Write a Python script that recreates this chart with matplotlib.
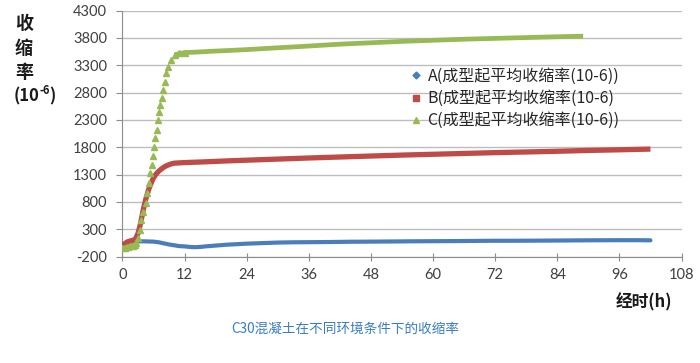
import numpy as np
import matplotlib
matplotlib.use("Agg")
import matplotlib.pyplot as plt
from matplotlib.lines import Line2D

plt.rcParams['font.family'] = ['Noto Sans CJK SC', 'DejaVu Sans']
plt.rcParams['axes.unicode_minus'] = False

# ---- data ----
t_a = [0, 0.5, 1, 1.5, 2, 3, 4, 5, 6, 7, 8, 9, 10, 11, 12, 13, 14, 15, 16, 18, 20, 22, 24,
       27, 30, 33, 36, 40, 44, 48, 52, 56, 60, 64, 68, 72, 76, 80, 84, 88, 92, 96, 100, 102]
v_a = [-40, -45, 0, 50, 70, 75, 78, 75, 72, 60, 40, 20, 5, -10, -15, -25, -30, -25, -15, 0, 15, 25, 35,
       45, 55, 60, 62, 65, 70, 72, 75, 78, 80, 82, 85, 88, 88, 90, 92, 95, 97, 98, 98, 96]

t_b = [0, 0.5, 1, 1.5, 2, 2.5, 3, 3.25, 3.5, 3.75, 4, 4.25, 4.5, 4.75, 5, 5.25, 5.5, 5.75, 6,
       6.5, 7, 7.5, 8, 8.5, 9, 9.5, 10, 11, 12, 14, 16, 18, 20, 24, 30, 36, 42, 48, 54, 60,
       66, 72, 78, 84, 90, 96, 102]
v_b = [0, 40, 70, 85, 95, 120, 224, 310, 410, 530, 650, 750, 850, 930, 1010, 1075, 1130, 1190, 1240,
       1310, 1360, 1400, 1435, 1460, 1480, 1497, 1507, 1513, 1518, 1525, 1532, 1540, 1548, 1562, 1582, 1602, 1620, 1638, 1655, 1670,
       1685, 1700, 1712, 1725, 1740, 1752, 1765]

t_c = [0, 0.5, 1, 1.5, 2, 2.4, 2.7, 3.0, 3.33, 3.66, 3.97, 4.49, 4.74, 5.07, 5.39, 5.70, 5.90,
       6.09, 6.36, 6.61, 6.86, 7.05, 7.32, 7.57, 7.82, 8.15, 8.48, 8.79, 9.31, 10.08, 11, 12,
       14, 16, 18, 20, 24, 30, 36, 42, 48, 54, 60, 66, 72, 78, 84, 89]
v_c = [-50, -40, -20, -10, 0, 15, 41, 133, 287, 468, 619, 784, 956, 1139, 1322, 1474, 1638,
       1808, 1962, 2114, 2297, 2448, 2571, 2694, 2845, 2997, 3151, 3272, 3394, 3486, 3515, 3530,
       3538, 3548, 3558, 3566, 3585, 3618, 3650, 3684, 3710, 3735, 3755, 3775, 3790, 3805, 3820, 3830]

labels = ['A(成型起平均收缩率(10-6))', 'B(成型起平均收缩率(10-6)', 'C(成型起平均收缩率(10-6))']
x_ticks = [0, 12, 24, 36, 48, 60, 72, 84, 96, 108]
y_ticks = [-200, 300, 800, 1300, 1800, 2300, 2800, 3300, 3800, 4300]

col_a, col_b, col_c = '#4a7ebb', '#be4b48', '#98b954'

fig = plt.figure(figsize=(7.0, 3.63), dpi=100)
ax = fig.add_axes([122.5/700, 1-256.5/363, 559/700, 246/363])

ax.set_xlim(0, 108)
ax.set_ylim(-200, 4300)
ax.set_xticks(x_ticks)
ax.set_yticks(y_ticks)
ax.yaxis.grid(True, color='#bdbdbd', linewidth=1.0)
ax.set_axisbelow(True)
for s in ['top', 'right']:
    ax.spines[s].set_visible(False)
for s in ['left', 'bottom']:
    ax.spines[s].set_color('#8c8c8c')
ax.tick_params(axis='both', colors='#8c8c8c', labelcolor='#404040', labelsize=10.5)
ax.tick_params(axis='y', length=4, pad=7)
ax.tick_params(axis='x', direction='inout', length=6, pad=5)
for lab in ax.get_xticklabels() + ax.get_yticklabels():
    lab.set_family(['Lato', 'DejaVu Sans'])

# series A
ta, va = np.array(t_a), np.array(v_a)
ax.plot(ta, va, color=col_a, lw=3.0, solid_capstyle='round', zorder=3)
# series B
tb, vb = np.array(t_b), np.array(v_b)
ax.plot(tb, vb, color=col_b, lw=3.8, solid_capstyle='butt', solid_joinstyle='round', zorder=4)
# series C: separate triangles visible during the fast rise
tc, vc = np.array(t_c, dtype=float), np.array(v_c, dtype=float)
vline = np.where((tc > 2.8) & (tc < 9.5), np.nan, vc)
ax.plot(tc, vline, color=col_c, lw=3.4, solid_capstyle='butt', zorder=5)
mc = tc <= 12
ax.plot(tc[mc], vc[mc], ls='none', marker='^', ms=5, color=col_c, zorder=5)

# legend
handles = [Line2D([], [], ls='none', marker='D', ms=3.5, color=col_a),
           Line2D([], [], ls='none', marker='s', ms=4, color=col_b),
           Line2D([], [], ls='none', marker='^', ms=4.5, color=col_c)]
fig.legend(handles, labels, loc='upper left', bbox_to_anchor=(410/700, 1-68/363),
           frameon=False, fontsize=11.5, handlelength=0.8, handletextpad=0.3,
           labelspacing=0.32, borderaxespad=0, borderpad=0, labelcolor='#262626')

# y label stacked
lab_kw = dict(fontweight='bold', color='#1a1a1a')
for i, ch in enumerate(['收', '缩', '率']):
    fig.text(15/700, 1-(23+25*i)/363, ch, ha='left', va='center', fontsize=13, **lab_kw)
fig.text(14/700, 1-96/363, '(10', ha='left', va='center', fontsize=12, **lab_kw)
fig.text(39/700, 1-91/363, '-6', ha='left', va='center', fontsize=8, **lab_kw)
fig.text(49/700, 1-96/363, ')', ha='left', va='center', fontsize=12, **lab_kw)

fig.text(672/700, 1-302/363, '经时(h)', ha='right', va='center', fontsize=12, **lab_kw)
fig.text(345/700, 1-329/363, 'C30混凝土在不同环境条件下的收缩率', ha='center', va='center',
         fontsize=9.8, color='#3a7cc4')

fig.savefig('out.png', dpi=100)
